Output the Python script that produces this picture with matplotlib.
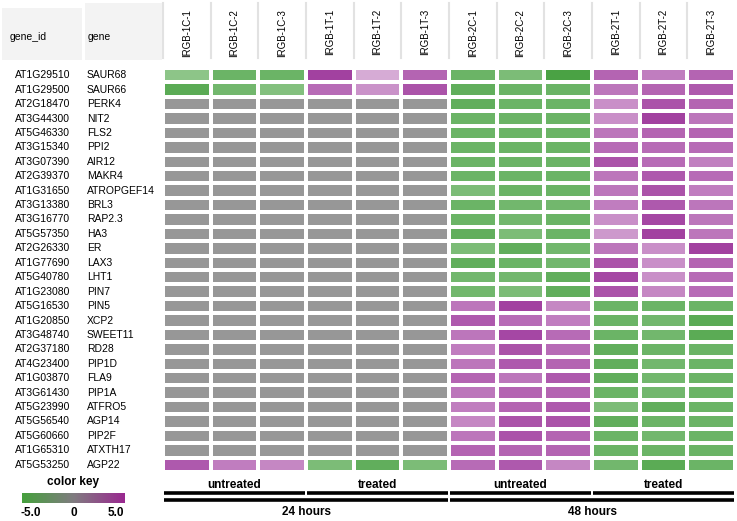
import numpy as np
import matplotlib
matplotlib.use("Agg")
import matplotlib.pyplot as plt
from matplotlib.colors import LinearSegmentedColormap
from matplotlib.patches import Rectangle
import matplotlib.transforms as mtransforms

plt.rcParams['font.family'] = ['Liberation Sans', 'DejaVu Sans']

# samples (columns)
samples = ["IRGB-1C-1", "IRGB-1C-2", "IRGB-1C-3", "IRGB-1T-1", "IRGB-1T-2", "IRGB-1T-3",
           "IRGB-2C-1", "IRGB-2C-2", "IRGB-2C-3", "IRGB-2T-1", "IRGB-2T-2", "IRGB-2T-3"]

gene_ids = ["AT1G29510", "AT1G29500", "AT2G18470", "AT3G44300", "AT5G46330", "AT3G15340",
            "AT3G07390", "AT2G39370", "AT1G31650", "AT3G13380", "AT3G16770", "AT5G57350",
            "AT2G26330", "AT1G77690", "AT5G40780", "AT1G23080", "AT5G16530", "AT1G20850",
            "AT3G48740", "AT2G37180", "AT4G23400", "AT1G03870", "AT3G61430", "AT5G23990",
            "AT5G56540", "AT5G60660", "AT1G65310", "AT5G53250"]

genes = ["SAUR68", "SAUR66", "PERK4", "NIT2", "FLS2", "PPI2", "AIR12", "MAKR4",
         "ATROPGEF14", "BRL3", "RAP2.3", "HA3", "ER", "LAX3", "LHT1", "PIN7", "PIN5",
         "XCP2", "SWEET11", "RD28", "PIP1D", "FLA9", "PIP1A", "ATFRO5", "AGP14",
         "PIP2F", "ATXTH17", "AGP22"]

# log fold change per gene (0 = not significant, shown grey)
z = [0, 0, 0]
values = [
    [-2.5, -3.5, -3.5, 4.5, 1.5, 3.5, -3.5, -3.0, -4.5, 3.5, 2.8, 3.5],
    [-4.0, -3.3, -2.8, 3.3, 2.2, 4.0, -3.8, -3.5, -3.5, 3.0, 3.5, 3.8],
    z + z + [-3.8, -3.5, -3.5, 2.3, 4.0, 3.5],
    z + z + [-3.5, -3.5, -3.5, 2.3, 4.5, 3.0],
    z + z + [-3.5, -3.5, -3.5, 3.0, 3.5, 3.5],
    z + z + [-3.5, -3.5, -3.5, 3.3, 3.3, 3.3],
    z + z + [-3.5, -3.5, -3.5, 4.0, 3.3, 2.7],
    z + z + [-3.5, -3.5, -3.5, 3.0, 3.8, 3.3],
    z + z + [-3.0, -3.5, -3.5, 3.0, 4.0, 2.8],
    z + z + [-3.5, -3.3, -3.3, 2.8, 3.8, 3.0],
    z + z + [-3.5, -3.3, -3.5, 2.3, 4.3, 3.0],
    z + z + [-3.8, -3.0, -3.5, 2.0, 4.5, 3.0],
    z + z + [-3.0, -3.8, -3.3, 3.0, 2.3, 4.5],
    z + z + [-3.8, -3.5, -3.3, 4.0, 2.3, 3.5],
    z + z + [-3.3, -3.3, -3.8, 4.3, 2.3, 3.3],
    z + z + [-3.3, -3.0, -3.8, 4.0, 2.5, 3.3],
    z + z + [3.0, 4.5, 2.5, -3.5, -3.5, -3.5],
    z + z + [3.8, 3.3, 2.8, -3.5, -3.3, -4.0],
    z + z + [3.0, 4.3, 3.3, -3.5, -3.3, -4.0],
    z + z + [2.8, 4.0, 3.3, -3.8, -3.5, -3.5],
    z + z + [3.0, 3.8, 3.5, -3.8, -3.3, -3.5],
    z + z + [3.5, 3.0, 3.8, -3.8, -3.3, -3.5],
    z + z + [3.0, 3.5, 3.5, -3.5, -3.3, -3.5],
    z + z + [2.8, 3.5, 3.8, -3.0, -3.8, -3.5],
    z + z + [2.5, 4.0, 4.0, -3.8, -3.5, -3.5],
    z + z + [3.0, 4.0, 3.5, -3.5, -3.3, -3.5],
    z + z + [3.5, 3.5, 3.5, -3.5, -3.5, -3.5],
    [3.8, 2.8, 2.5, -3.0, -3.8, -3.0, 3.3, 3.8, 2.5, -3.3, -4.0, -3.5],
]

treat_labels = ["untreated", "treated", "untreated", "treated"]
time_labels = ["24 hours", "48 hours"]
key_ticks = [-5.0, 0, 5.0]
key_tick_labels = ["-5.0", "0", "5.0"]

data = np.array(values, dtype=float)
data = np.ma.masked_where(data == 0, data)
nrow, ncol = data.shape

# cell colours: green side and purple side, grey for not significant
cell_cmap = LinearSegmentedColormap.from_list(
    "cells", [(0.0, "#3a9a34"), (0.4999, "#e0f0dc"), (0.5001, "#f0e0f0"), (1.0, "#9a3098")])
cell_cmap.set_bad("#979797")
key_cmap = LinearSegmentedColormap.from_list("key", ["#45a03c", "#807c80", "#9a2890"])

fig = plt.figure(figsize=(7.37, 5.21), dpi=100)
W, H = 737, 521

def fx(px):
    return px / W

def fy(py):
    return 1 - py / H

ax = fig.add_axes([fx(163), fy(472), fx(735) - fx(163), fy(68) - fy(472)])
ax.pcolormesh(np.arange(ncol + 1), np.arange(nrow + 1), data, cmap=cell_cmap, vmin=-5, vmax=5,
              edgecolors="white", linewidth=1.6)
ax.set_xlim(0, ncol)
ax.set_ylim(nrow, 0)
ax.set_axis_off()

# header boxes
fig.patches.append(Rectangle((fx(2), fy(60)), fx(80), fy(8) - fy(60), transform=fig.transFigure,
                             facecolor="#f3f3f3", edgecolor="none"))
fig.patches.append(Rectangle((fx(85), fy(60)), fx(77), fy(3) - fy(60), transform=fig.transFigure,
                             facecolor="#f3f3f3", edgecolor="none"))
fig.text(fx(10), fy(37), "gene_id", fontsize=7.5, va="center", ha="left")
fig.text(fx(88), fy(37), "gene", fontsize=7.5, va="center", ha="left")

bx = mtransforms.blended_transform_factory(ax.transData, fig.transFigure)
by = mtransforms.blended_transform_factory(fig.transFigure, ax.transData)

# column headers
for j, s in enumerate(samples):
    ax.text(j + 0.5, fy(9), s, rotation=90, ha="center", va="top", fontsize=7, transform=bx)
for j in range(ncol):
    ax.plot([j, j], [fy(3), fy(58)], color="#e2e2e2", lw=1.5, transform=bx, clip_on=False)

# row labels
for i in range(nrow):
    ax.text(fx(15), i + 0.5, gene_ids[i], ha="left", va="center", fontsize=7.5, transform=by)
    ax.text(fx(87), i + 0.5, genes[i], ha="left", va="center", fontsize=7.5, transform=by)

# group labels and bars
for k, lab in enumerate(treat_labels):
    ax.text(3 * k + 1.5, fy(485), lab, ha="center", va="center", fontsize=8.5,
            fontweight="bold", transform=bx)
    ax.plot([3 * k + 0.03, 3 * k + 2.97], [fy(493), fy(493)], color="black", lw=2.6,
            solid_capstyle="butt", transform=bx, clip_on=False)
for k, lab in enumerate(time_labels):
    ax.text(6 * k + 3, fy(512), lab, ha="center", va="center", fontsize=8.5,
            fontweight="bold", transform=bx)
    ax.plot([6 * k + 0.03, 6 * k + 5.97], [fy(500), fy(500)], color="black", lw=2.6,
            solid_capstyle="butt", transform=bx, clip_on=False)

# color key
fig.text(fx(73), fy(482), "color key", ha="center", va="center", fontsize=8.5, fontweight="bold")
kax = fig.add_axes([fx(22), fy(503), fx(125) - fx(22), fy(493) - fy(503)])
grad = np.linspace(-5, 5, 256).reshape(1, -1)
kax.imshow(grad, aspect="auto", cmap=key_cmap, vmin=-5, vmax=5, extent=[-5, 5, 0, 1])
kax.set_xticks([])
kax.set_yticks([])
for sp in kax.spines.values():
    sp.set_visible(False)
kbx = mtransforms.blended_transform_factory(kax.transData, fig.transFigure)
for t, tl in zip(key_ticks, key_tick_labels):
    kax.text(t * 0.83, fy(513), tl, ha="center", va="center", fontsize=8.5,
             fontweight="bold", transform=kbx)

fig.savefig("out.png", dpi=100)
